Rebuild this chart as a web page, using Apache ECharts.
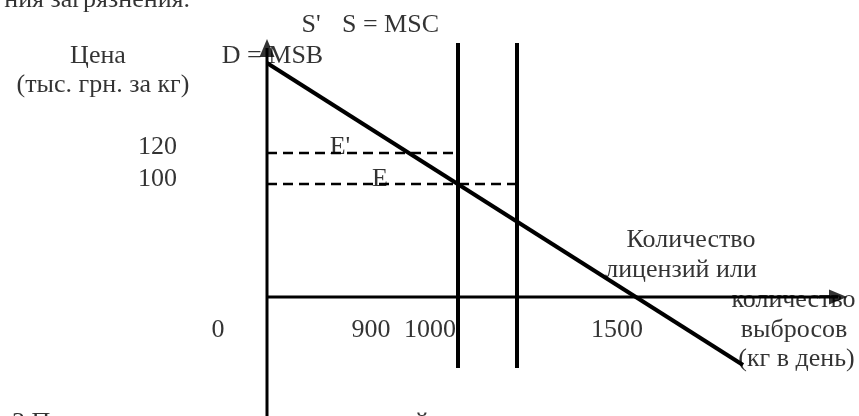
<!DOCTYPE html>
<html>
<head>
<meta charset="utf-8">
<script src="https://cdn.jsdelivr.net/npm/echarts@6/dist/echarts.min.js"></script>
<style>
  html, body { margin: 0; padding: 0; background: #fff; }
  #main { width: 859px; height: 416px; }
</style>
</head>
<body>
<div id="main"></div>
<script>
// schematic units: origin where the two axes cross
var priceAxis = [[0, -119], [0, 249]];
var quantityAxis = [[0, 0], [571, 0]];
var demand = [[0, 234], [476, -68]];          // D = MSB
var supplyShifted = [[191, 254], [191, -71]]; // S'
var supply = [[250, 254], [250, -71]];        // S = MSC
var price120 = [[0, 144], [191, 144]];
var price100 = [[0, 113], [250, 113]];

// text labels
var labelText = ['ния загрязнения.', "S'", 'S = MSC', 'D = MSB', 'Цена', '(тыс. грн. за кг)',
  '120', '100', "E'", 'E', '0', '900', '1000', '1500',
  'Количество', 'лицензий или', 'количество', 'выбросов', '(кг в день)', '3 П', 'й'];
var labelX = [-77, 44, 123.5, 5.5, -169, -164, -109.5, -109.5, 73, 113, -49, 104, 163, 350,
  424, 414, 526.5, 527, 529.5, -255, 155];
var labelY = [297, 272, 272, 241, 241, 212, 150, 118, 150, 118, -33, -33, -33, -33,
  57, 27, -3, -33, -62, -126, -126];
var labelAlign = {0: 'right', 19: 'left'};

var myChart = echarts.init(document.getElementById('main'));

function line(data, width, type) {
  return {
    type: 'line',
    data: data,
    symbol: 'none',
    silent: true,
    clip: false,
    z: 3,
    lineStyle: { color: '#000', width: width, type: type || 'solid' }
  };
}

var labelData = labelText.map(function (t, i) {
  return {
    value: [labelX[i], labelY[i]],
    name: t,
    label: { align: labelAlign[i] || 'center' }
  };
});

myChart.setOption({
  animation: false,
  grid: { left: 0, right: 0, top: 0, bottom: 0 },
  xAxis: { type: 'value', min: -267, max: 592, show: false },
  yAxis: { type: 'value', min: -119, max: 297, show: false },
  series: [
    {
      type: 'scatter',
      data: labelData,
      symbolSize: 1,
      silent: true,
      clip: false,
      z: 1,
      itemStyle: { color: 'rgba(0,0,0,0)' },
      label: {
        show: true,
        position: 'inside',
        formatter: function (p) { return p.name; },
        color: '#000',
        fontFamily: 'Liberation Serif',
        fontSize: 26,
        verticalAlign: 'middle'
      }
    },
    line(priceAxis, 3),
    line(quantityAxis, 3),
    line(price120, 2.5, [10, 6]),
    line(price100, 2.5, [10, 6]),
    line(supplyShifted, 4),
    line(supply, 4),
    line(demand, 4),
    {
      type: 'scatter',
      silent: true,
      clip: false,
      z: 4,
      symbol: 'triangle',
      itemStyle: { color: '#000' },
      data: [
        { value: priceAxis[1], symbolSize: [15, 18] },
        { value: quantityAxis[1], symbolSize: [15, 18], symbolRotate: -90 }
      ]
    }
  ]
});
</script>
</body>
</html>
